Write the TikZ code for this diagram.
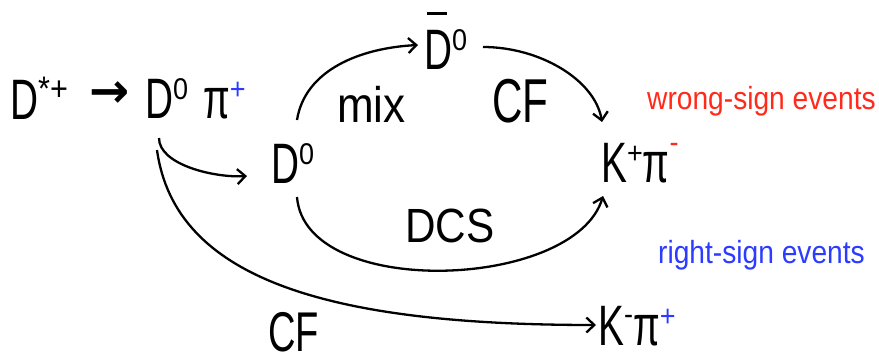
\documentclass[tikz,border=0pt]{standalone}
\usepackage{fontspec}
\setmainfont{Liberation Sans}[FakeStretch=0.68]
\newfontfamily\supfont{Liberation Sans}[FakeStretch=0.9]
\newfontfamily\evfont{Liberation Sans}[FakeStretch=0.88]
\newfontfamily\symfont{DejaVu Sans}
\usetikzlibrary{arrows.meta}
\definecolor{WSRed}{HTML}{FF2A1A}
\definecolor{RSBlue}{HTML}{2B3BFF}
\newcommand\hi[2][19pt]{\raisebox{#1}{\supfont\fontsize{30}{30}\selectfont #2}}
\newcommand\barD{\rlap{\hspace{3pt}\rule[55pt]{20pt}{2.5pt}}D}
\tikzset{part/.style={inner sep=0pt,anchor=base west,font=\fontsize{57}{60}\selectfont}, ev/.style={inner sep=0pt,anchor=base west,font=\evfont\fontsize{32}{34}\selectfont}, decay/.style={-{Straight Barb[length=8pt,width=15pt]},line width=2.3pt}}

\begin{document}
\begin{tikzpicture}[x=1pt,y=-1pt]
\useasboundingbox (0,0) rectangle (879,361);
% particles
\node[part] (dstar) at (10,119) {D\hi{\fontsize{34}{34}\selectfont*+}};
\node[inner sep=0pt,font=\symfont\bfseries\fontsize{48}{48}\selectfont] (arrsym) at (110,95) {→};
\node[part] (d0a) at (145,118) {D\hi{0}};
\node[part] (pip) at (203,118) {π\hi{\color{RSBlue}+}};
\node[part] (d0b) at (271,183) {D\hi{0}};
\node[part] (d0bar) at (424,70) {\barD\hi{0}};
\node[part] (kpm) at (601,182) {K\hi{+}π\hi[30pt]{\color{WSRed}-}};
\node[part] (kmp) at (598,345) {K\hi[21pt]{-}π\hi{\color{RSBlue}+}};
% labels
\node[part,font=\evfont\fontsize{50}{52}\selectfont] (mix) at (337,122) {mix};
\node[part,font=\fontsize{62}{64}\selectfont] (cftop) at (492,122) {CF};
\node[part,font=\evfont\fontsize{48}{50}\selectfont] (dcs) at (405,242) {DCS};
\node[part,font=\fontsize{56}{58}\selectfont] (cfbot) at (268,351) {CF};
\node[ev,text=WSRed] (wrong) at (647,110) {wrong-sign events};
\node[ev,text=RSBlue] (right) at (658,263) {right-sign events};
% decay paths
\draw[decay] ([shift={(14,20)}]d0a.base west) .. controls +(0,27) and +(-32,2) .. ([shift={(-24,-7)}]d0b.base west);
\draw[decay] ([shift={(12,32)}]d0a.base west) .. controls +(18,130) and +(-266,0) .. ([shift={(-2,-20)}]kmp.base west);
\draw[decay] ([shift={(26,-63)}]d0b.base west) .. controls +(8,-50) and +(-58,3) .. ([shift={(-6,-25)}]d0bar.base west);
\draw[decay] ([shift={(59,-23)}]d0bar.base west) .. controls +(57,0) and +(-7,-42) .. ([shift={(1,-60)}]kpm.base west);
\draw[decay] ([shift={(26,14)}]d0b.base west) .. controls +(8,103) and +(-28,94) .. ([shift={(2,14)}]kpm.base west);
\end{tikzpicture}
\end{document}
